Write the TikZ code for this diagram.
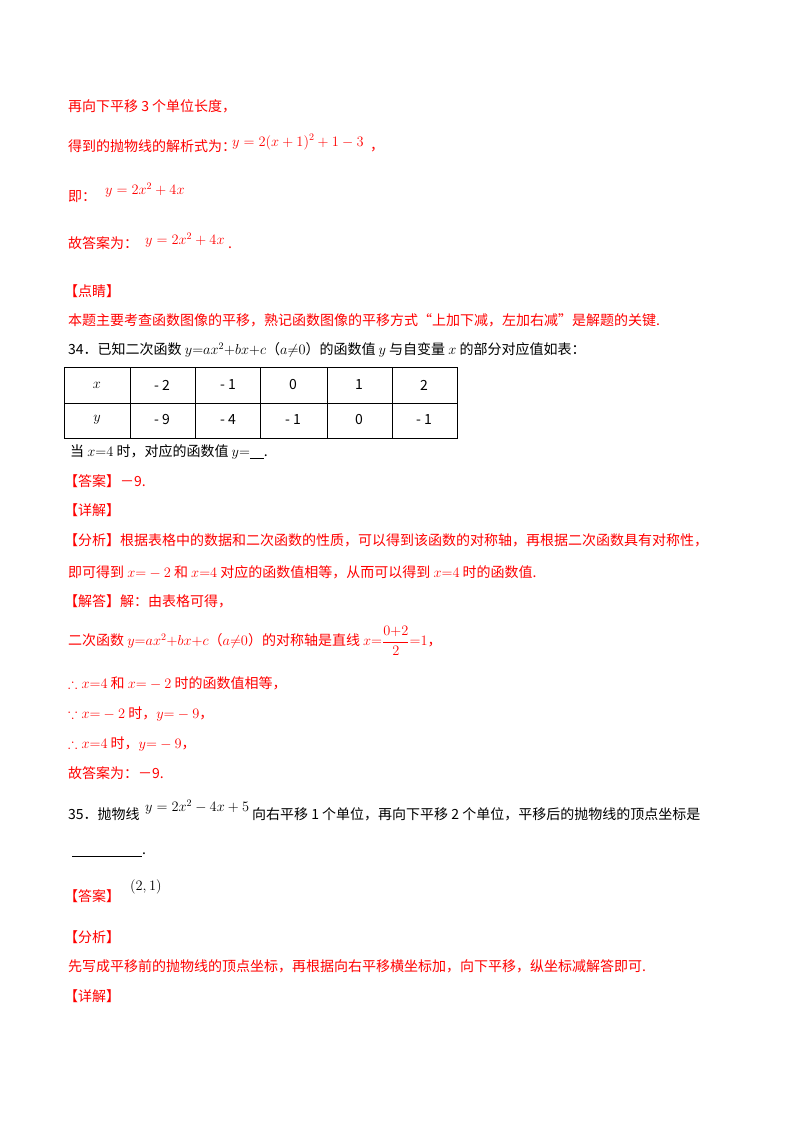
\documentclass[tikz,border=0pt]{standalone}
\usepackage{amsmath,amssymb}
\usepackage{fontspec}
\setmainfont{Noto Sans CJK SC}
\begin{document}
\begin{tikzpicture}[x=1pt,y=-1pt,
  t/.style={anchor=west,inner sep=0pt,font=\fontsize{14}{17}\selectfont},
  r/.style={t,text=red},
  b/.style={t,text=black}]
\useasboundingbox[fill=white] (0,0) rectangle (800,1132);
\node[r] (l1) at (68,106) {再向下平移 3 个单位长度，};
\node[r] (l2) at (68,146) {得到的抛物线的解析式为：};
\node[r] (l2f) at (232,142) {$y=2(x+1)^2+1-3$};
\node[r] (l2c) at (370,150) {，};
\node[r] (l3) at (68,197) {即：};
\node[r] (l3f) at (105,190) {$y=2x^2+4x$};
\node[r] (l4) at (68,243) {故答案为：};
\node[r] (l4f) at (145,240) {$y=2x^2+4x$};
\node[r] (l4d) at (228,248) {.};
\node[r] (l5) at (64,291) {【点睛】};
\node[r] (l6) at (68,320) {本题主要考查函数图像的平移，熟记函数图像的平移方式“上加下减，左加右减”是解题的关键.};
\node[b] (q34) at (68,350) {34．已知二次函数 $y{=}ax^2{+}bx{+}c$（$a{\neq}0$）的函数值 $y$ 与自变量 $x$ 的部分对应值如表：};
\draw[line width=0.8pt] (64,367) rectangle (457,438);
\draw[line width=0.8pt] (64,403) -- (457,403);
\foreach \xx in {130,195,260,327,392} \draw[line width=0.8pt] (\xx,367) -- (\xx,438);
\foreach \cx/\a/\b in {97/$x$/$y$,162/- 2/- 9,228/- 1/- 4,293/0/- 1,359/1/0,424/2/- 1}{
  \node[b,anchor=center] at (\cx,385) {\a};
  \node[b,anchor=center] at (\cx,420) {\b};}
\node[b] (q34b) at (70,452) {当 $x{=}4$ 时，对应的函数值 $y{=}$\underline{\hspace{14pt}}.};
\node[r] (a1) at (64,481) {【答案】－9.};
\node[r] (a2) at (64,510) {【详解】};
\node[r] (a3) at (64,540) {【分析】根据表格中的数据和二次函数的性质，可以得到该函数的对称轴，再根据二次函数具有对称性，};
\node[r] (a4) at (68,572) {即可得到 $x{=}-2$ 和 $x{=}4$ 对应的函数值相等，从而可以得到 $x{=}4$ 时的函数值.};
\node[r] (a5) at (64,601) {【解答】解：由表格可得，};
\node[r] (a6) at (68,641) {二次函数 $y{=}ax^2{+}bx{+}c$（$a{\neq}0$）的对称轴是直线 $x{=}\dfrac{0{+}2}{2}{=}1$，};
\node[r] (a7) at (68,683) {$\therefore x{=}4$ 和 $x{=}-2$ 时的函数值相等，};
\node[r] (a8) at (68,714) {$\because x{=}-2$ 时，$y{=}-9$，};
\node[r] (a9) at (68,744) {$\therefore x{=}4$ 时，$y{=}-9$，};
\node[r] (a10) at (68,773) {故答案为：－9.};
\node[b] (q35) at (68,814) {35．抛物线};
\node[b] (q35f) at (145,807) {$y=2x^2-4x+5$};
\node[b] (q35b) at (252,814) {向右平移 1 个单位，再向下平移 2 个单位，平移后的抛物线的顶点坐标是};
\node[b] (q35c) at (72,855) {\underline{\hspace{70pt}}.};
\node[r] (b1) at (64,896) {【答案】};
\node[b] (b1f) at (130,887) {$\left(2,1\right)$};
\node[r] (b2) at (64,937) {【分析】};
\node[r] (b3) at (68,966) {先写成平移前的抛物线的顶点坐标，再根据向右平移横坐标加，向下平移，纵坐标减解答即可.};
\node[r] (b4) at (64,996) {【详解】};
\end{tikzpicture}
\end{document}
